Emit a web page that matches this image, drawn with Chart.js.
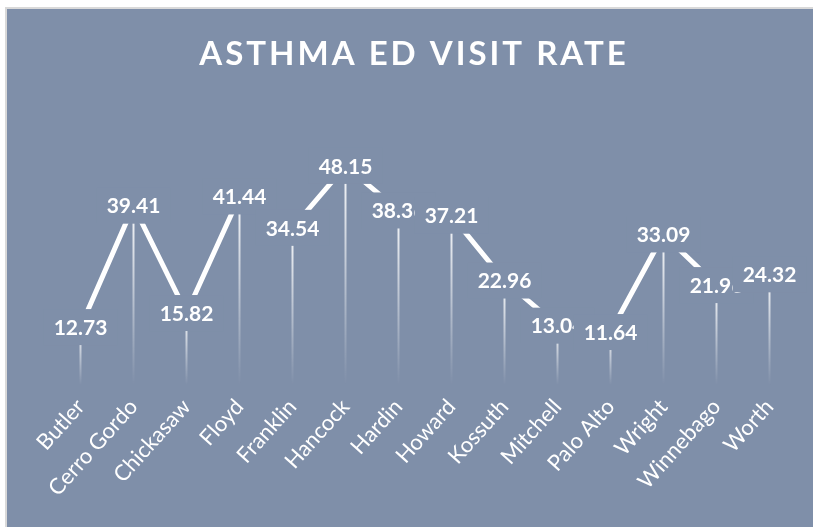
<!DOCTYPE html>
<html>
<head>
<meta charset="utf-8">
<script src="https://cdn.jsdelivr.net/npm/chart.js@4.4.1/dist/chart.umd.min.js"></script>
<style>
    html, body { margin: 0; padding: 0; background: #ffffff; }
    #frame { position: absolute; left: 5px; top: 7px; width: 808px; height: 520px; background: #d9d9d9; }
    #panel { position: absolute; left: 7px; top: 9px; width: 806px; height: 518px; background: #7f8fa9; }
</style>
</head>
<body>
<div id="frame"></div>
<div id="panel"><canvas id="asthmaChart" width="806" height="518"></canvas></div>
<script>
// Chart data
const counties = ['Butler', 'Cerro Gordo', 'Chickasaw', 'Floyd', 'Franklin', 'Hancock', 'Hardin',
    'Howard', 'Kossuth', 'Mitchell', 'Palo Alto', 'Wright', 'Winnebago', 'Worth'];
const rates = [12.73, 39.41, 15.82, 41.44, 34.54, 48.15, 38.36, 37.21, 22.96, 13.04, 11.64, 33.09, 21.96, 24.32];
const chartTitle = 'ASTHMA ED VISIT RATE';

const panelColor = '#7f8fa9';

// Title with letter spacing (Chart.js title has no letterSpacing option)
const spacedTitle = {
    id: 'spacedTitle',
    afterDraw(chart) {
        const ctx = chart.ctx;
        ctx.save();
        ctx.font = 'bold 33px Lato';
        ctx.letterSpacing = '3px';
        ctx.fillStyle = '#ffffff';
        ctx.textAlign = 'center';
        ctx.textBaseline = 'middle';
        ctx.fillText(chartTitle, chart.width / 2 + 4, 45);
        ctx.restore();
    }
};

// Drop lines from each point down to the category axis
const dropLines = {
    id: 'dropLines',
    beforeDatasetsDraw(chart) {
        const ctx = chart.ctx;
        const bottom = chart.scales.y.getPixelForValue(0);
        const meta = chart.getDatasetMeta(0);
        ctx.save();
        ctx.lineWidth = 2;
        meta.data.forEach(pt => {
            const g = ctx.createLinearGradient(0, pt.y, 0, bottom);
            g.addColorStop(0, 'rgba(255,255,255,0.95)');
            g.addColorStop(1, 'rgba(255,255,255,0)');
            ctx.strokeStyle = g;
            ctx.beginPath();
            ctx.moveTo(pt.x, pt.y);
            ctx.lineTo(pt.x, bottom);
            ctx.stroke();
        });
        ctx.restore();
    }
};

// Value labels centred on the points, on a box filled with the panel colour
const valueLabels = {
    id: 'valueLabels',
    afterDatasetsDraw(chart) {
        const ctx = chart.ctx;
        const meta = chart.getDatasetMeta(0);
        ctx.save();
        ctx.font = 'bold 21px Lato';
        ctx.textAlign = 'center';
        ctx.textBaseline = 'middle';
        meta.data.forEach((pt, i) => {
            const txt = rates[i].toFixed(2);
            const w = ctx.measureText(txt).width + 20;
            ctx.fillStyle = panelColor;
            ctx.fillRect(pt.x - w / 2, pt.y - 18, w, 36);
            ctx.fillStyle = '#ffffff';
            ctx.fillText(txt, pt.x, pt.y + 1);
        });
        ctx.restore();
    }
};

const ctx = document.getElementById('asthmaChart');

new Chart(ctx, {
    type: 'line',
    data: {
        labels: counties,
        datasets: [{
            label: 'Asthma ED visit rate',
            data: rates,
            borderColor: '#ffffff',
            borderWidth: 5,
            pointRadius: 0,
            tension: 0
        }]
    },
    options: {
        responsive: false,
        animation: false,
        layout: {
            padding: { left: 47, right: 17, top: 103, bottom: 0 }
        },
        plugins: {
            legend: { display: false },
            tooltip: { enabled: false },
            title: { display: false }
        },
        scales: {
            y: {
                display: false,
                min: 0,
                max: 60
            },
            x: {
                offset: true,
                grid: { display: false },
                border: { display: false },
                ticks: {
                    color: '#ffffff',
                    font: { family: 'Lato', size: 22 },
                    maxRotation: 48,
                    minRotation: 48,
                    autoSkip: false,
                    padding: 1
                },
                afterFit(scale) {
                    scale.height = 142;
                    scale.paddingLeft = 0;
                    scale.paddingRight = 0;
                }
            }
        }
    },
    plugins: [dropLines, valueLabels, spacedTitle]
});
</script>
</body>
</html>
